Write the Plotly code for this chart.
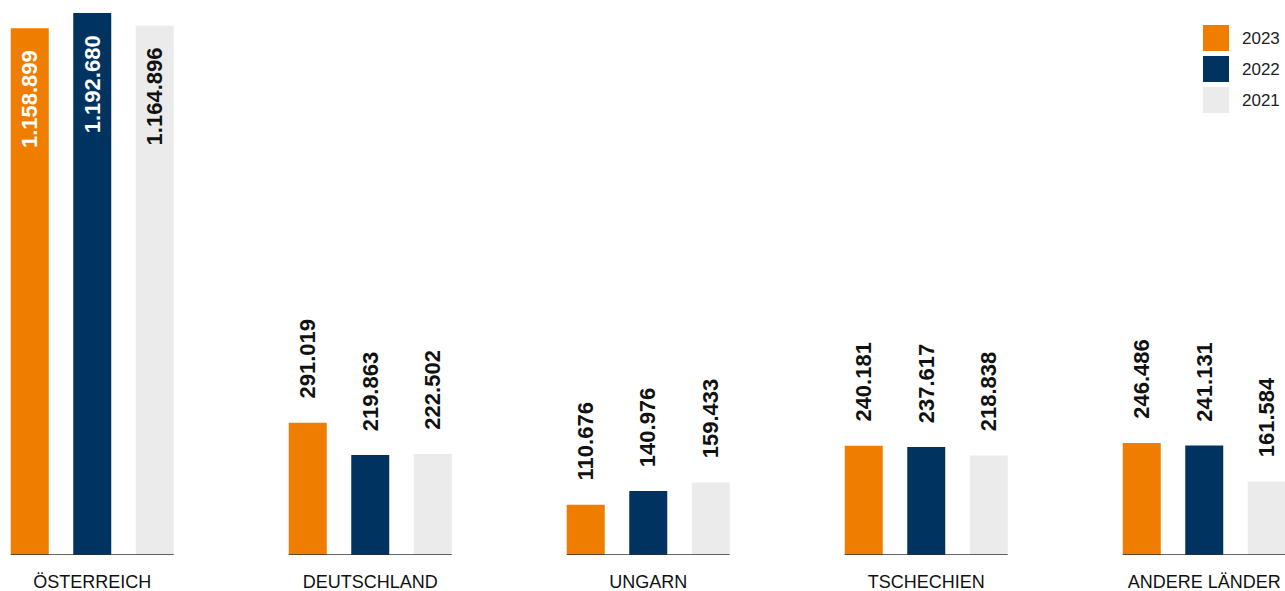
import plotly.graph_objects as go

categories = ["ÖSTERREICH", "DEUTSCHLAND", "UNGARN", "TSCHECHIEN", "ANDERE LÄNDER"]
series_names = ["2023", "2022", "2021"]
values_2023 = [1158899, 291019, 110676, 240181, 246486]
values_2022 = [1192680, 219863, 140976, 237617, 241131]
values_2021 = [1164896, 222502, 159433, 218838, 161584]
colors = ["#EF7D00", "#003360", "#EBEBEB"]
inside_text_colors = ["#FFFFFF", "#FFFFFF", "#111111"]

series = [values_2023, values_2022, values_2021]

W, H = 1285, 591
M_T, M_B, M_L, M_R = 13, 36, 0, 0
BARGAP = 0.3255
BARGROUPGAP = 0.392
slot = (1 - BARGAP) / 3
ymax = max(max(s) for s in series)


def fmt(v):
    return f"{v:,}".replace(",", ".")


fig = go.Figure()
for name, vals, col in zip(series_names, series, colors):
    fig.add_trace(go.Bar(
        x=list(range(len(categories))), y=vals, name=name,
        marker=dict(color=col, line=dict(width=0)),
        showlegend=False, hoverinfo="skip",
    ))

annotations = []
shapes = []
for k, (vals, col) in enumerate(zip(series, colors)):
    for i, v in enumerate(vals):
        xpos = i + (k - 1) * slot
        inside = v > 0.8 * ymax
        if inside:
            annotations.append(dict(
                x=xpos, y=v, xref="x", yref="y", text=fmt(v), textangle=-90,
                showarrow=False, xanchor="center", yanchor="top", yshift=-20,
                font=dict(family="Liberation Sans, Arial, sans-serif", size=22,
                          color=inside_text_colors[k], weight="bold"),
            ))
        else:
            annotations.append(dict(
                x=xpos, y=v, xref="x", yref="y", text=fmt(v), textangle=-90,
                showarrow=False, xanchor="center", yanchor="bottom", yshift=22,
                font=dict(family="Liberation Sans, Arial, sans-serif", size=22,
                          color="#111111", weight="bold"),
            ))

# baselines under each group
half = 1.5 * slot - slot * BARGROUPGAP / 2
for i in range(len(categories)):
    shapes.append(dict(type="line", xref="x", yref="y", x0=i - half, x1=i + half,
                       y0=0, y1=0, line=dict(color="#333333", width=1.5)))

# custom legend (large squares)
plot_h = H - M_T - M_B


def py(p):
    return (H - M_B - p) / plot_h


for k, (name, col) in enumerate(zip(series_names, colors)):
    top = 25 + 31 * k
    shapes.append(dict(type="rect", xref="paper", yref="paper",
                       x0=1203 / W, x1=1229 / W, y0=py(top + 26), y1=py(top),
                       fillcolor=col, line=dict(width=0)))
    annotations.append(dict(x=1240 / W, y=py(top + 13), xref="paper", yref="paper",
                            text=name, showarrow=False, xanchor="left", yanchor="middle",
                            font=dict(family="Liberation Sans, Arial, sans-serif", size=17,
                                      color="#222222")))

fig.update_layout(
    width=W, height=H,
    margin=dict(t=M_T, b=M_B, l=M_L, r=M_R, pad=0),
    paper_bgcolor="white", plot_bgcolor="white",
    barmode="group", bargap=BARGAP, bargroupgap=BARGROUPGAP,
    showlegend=False,
    xaxis=dict(
        tickmode="array", tickvals=list(range(len(categories))), ticktext=categories,
        range=[-92.25 / 278, (W - 92.25) / 278],
        showgrid=False, zeroline=False, showline=False, ticks="",
        ticklabelstandoff=14,
        tickfont=dict(family="Liberation Sans, Arial, sans-serif", size=18, color="#111111"),
        fixedrange=True,
    ),
    yaxis=dict(range=[0, ymax], visible=False, showgrid=False, zeroline=False, fixedrange=True),
    annotations=annotations,
    shapes=shapes,
)

fig.write_html("out.html", config={"displayModeBar": False})
